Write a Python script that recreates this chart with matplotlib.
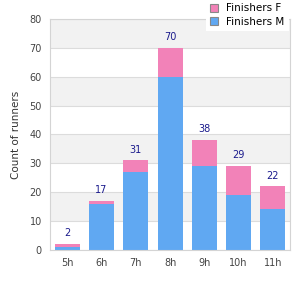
import matplotlib.pyplot as plt
import numpy as np
from matplotlib.patches import Patch

# data
hours = ['5h', '6h', '7h', '8h', '9h', '10h', '11h']
finishers_m = [1, 16, 27, 60, 29, 19, 14]
finishers_f = [1, 1, 4, 10, 9, 10, 8]
totals = [m + f for m, f in zip(finishers_m, finishers_f)]

blue = '#60a8f2'
pink = '#f282b8'

fig = plt.figure(figsize=(3, 3), dpi=100)
ax = fig.add_axes([0.167, 0.167, 0.8, 0.77])

x = np.arange(len(hours))
# alternating background bands
for lo in range(10, 80, 20):
    ax.axhspan(lo, lo + 10, color='#f2f2f2', zorder=0, lw=0)
ax.yaxis.grid(True, color='#dcdcdc', lw=0.8, zorder=1)
ax.set_axisbelow(True)

ax.bar(x, finishers_m, width=0.73, color=blue, zorder=2, label='Finishers M')
ax.bar(x, finishers_f, width=0.73, bottom=finishers_m, color=pink, zorder=2,
       label='Finishers F')

for xi, t in zip(x, totals):
    ax.text(xi, t + 2, str(t), ha='center', va='bottom', fontsize=7,
            color='#1a1a8c')

ax.set_xlim(-0.5, len(hours) - 0.5)
ax.set_ylim(0, 80)
ax.set_yticks(range(0, 81, 10))
ax.set_xticks(x)
ax.set_xticklabels(hours)
ax.tick_params(length=0, labelsize=7, colors='#444444', pad=6)
ax.set_ylabel('Count of runners', fontsize=7.5, color='#333333', labelpad=6)
for s in ax.spines.values():
    s.set_color('#d4d4d4')

handles = [Patch(facecolor=pink, edgecolor='#888888', lw=0.8),
           Patch(facecolor=blue, edgecolor='#888888', lw=0.8)]
leg = fig.legend(handles, ['Finishers F', 'Finishers M'], loc='upper right',
                 bbox_to_anchor=(0.97, 1.01), fontsize=7.5, frameon=True,
                 fancybox=False, edgecolor='white', framealpha=1,
                 handlelength=0.8, handleheight=0.8, labelspacing=0.35,
                 borderaxespad=0.2)
leg.get_frame().set_linewidth(0)

fig.savefig('out.png', dpi=100)
